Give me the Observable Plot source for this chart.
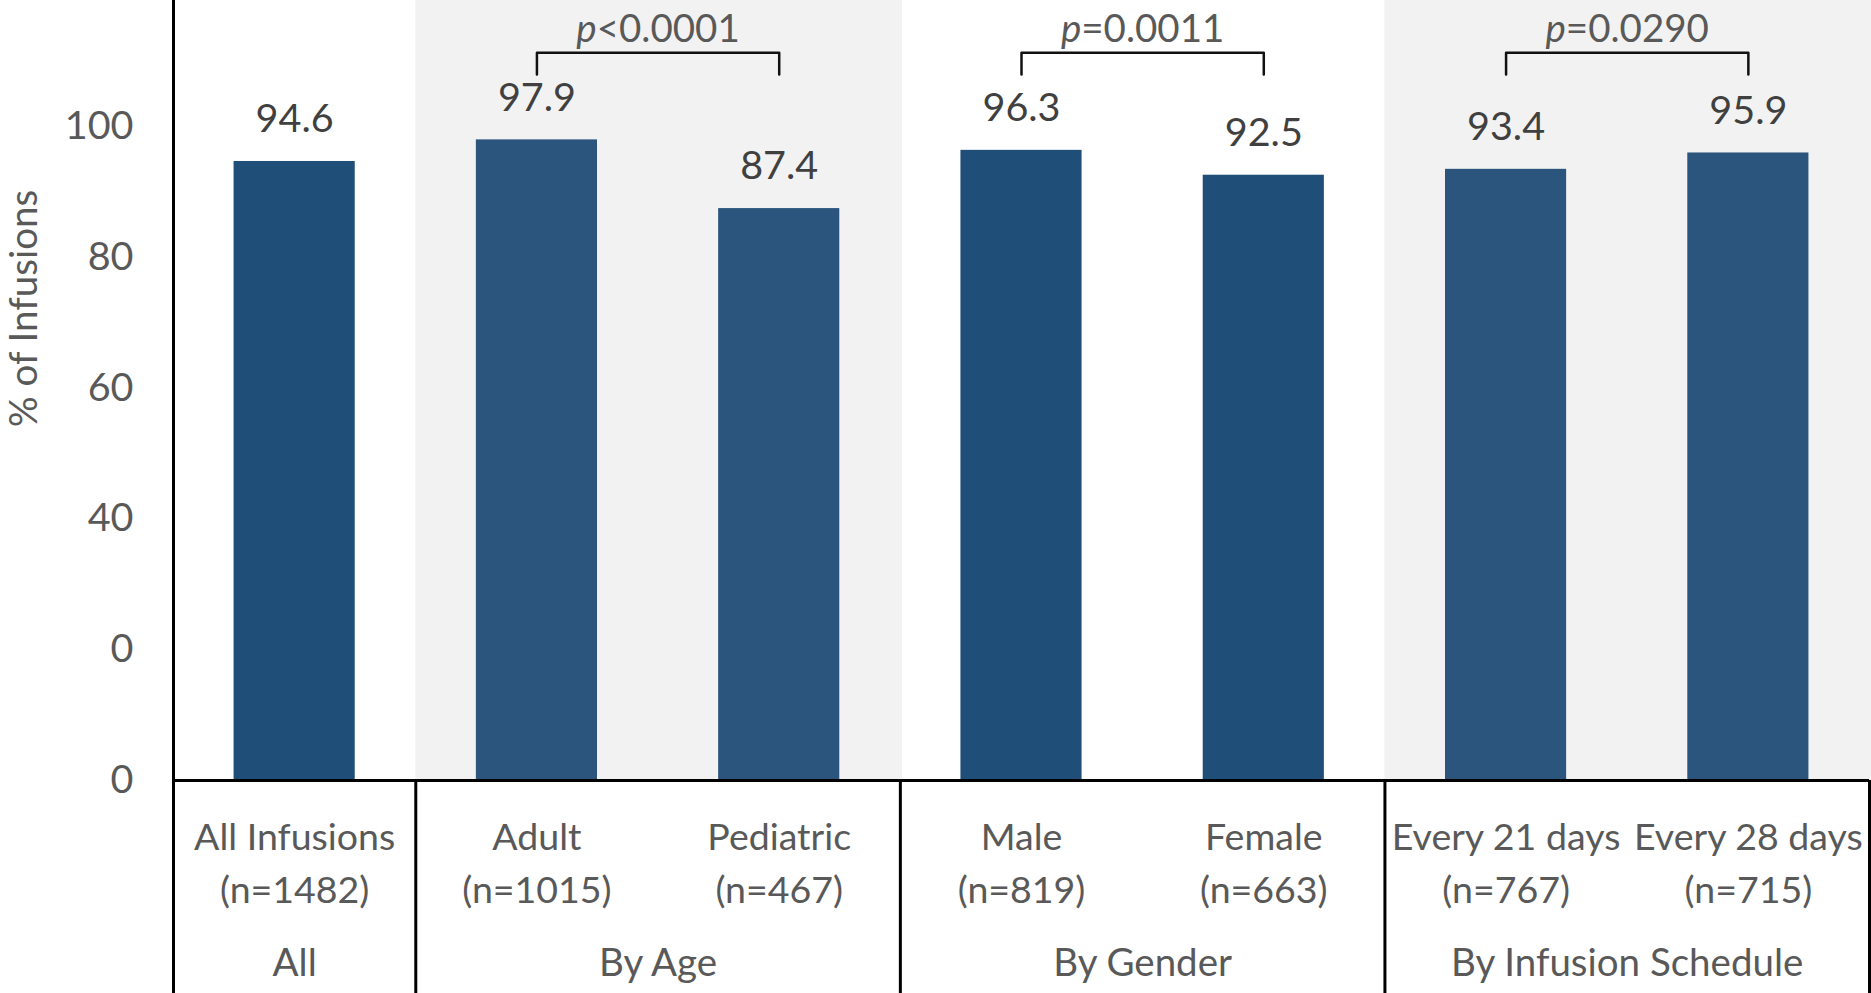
<!DOCTYPE html>
<html>
<head>
<meta charset="utf-8">
<script src="https://cdn.jsdelivr.net/npm/d3@7"></script>
<script src="https://cdn.jsdelivr.net/npm/@observablehq/plot@0.6"></script>
<style>
  html, body { margin: 0; padding: 0; background: #ffffff; }
  #chart svg { display: block; }
</style>
</head>
<body>
<div id="chart"></div>
<script>
// ---- data ----
const categories = ["All Infusions", "Adult", "Pediatric", "Male", "Female", "Every 21 days", "Every 28 days"];
const sampleSizes = ["(n=1482)", "(n=1015)", "(n=467)", "(n=819)", "(n=663)", "(n=767)", "(n=715)"];
const values = [94.6, 97.9, 87.4, 96.3, 92.5, 93.4, 95.9];
const groups = ["All", "By Age", "By Gender", "By Infusion Schedule"];
const groupOfCategory = [0, 1, 1, 2, 2, 3, 3];
const shadedGroups = ["By Age", "By Infusion Schedule"];
const pLabels = ["p<0.0001", "p=0.0011", "p=0.0290"];
const pPairs = [[1, 2], [3, 4], [5, 6]];
const yTicks = [0, 20, 40, 60, 80, 100];
const yTickLabels = ["0", "0", "40", "60", "80", "100"];
const yTitle = "% of Infusions";
const yMax = 119.2;
const bracketTop = 111.2;
const bracketLeg = 107.9;
const pTextLevel = 114.8;

// ---- derived tables ----
const data = categories.map((c, i) => ({
  i, category: c, n: sampleSizes[i], value: values[i], group: groupOfCategory[i],
  shaded: shadedGroups.includes(groups[groupOfCategory[i]])
}));
const groupData = groups.map((g, gi) => {
  const idx = data.filter(d => d.group === gi).map(d => d.i);
  return { label: g, start: d3.min(idx), end: d3.max(idx), mid: d3.mean(idx), shaded: shadedGroups.includes(g) };
});
const bracketData = pPairs.flatMap(([a, b], k) => [
  { k, x: a, y: bracketLeg }, { k, x: a, y: bracketTop },
  { k, x: b, y: bracketTop }, { k, x: b, y: bracketLeg }
]);
const pData = pPairs.map(([a, b], k) => ({ x: (a + b) / 2, label: pLabels[k] }));

const FS_NUM = 39.5;   // numbers
const FS_TXT = 38.5;   // words
const FS_CAT = 37.5;   // category labels
const W = 1871, H = 993;
const MB = 213;

const chart = Plot.plot({
  width: W,
  height: H,
  marginLeft: 173,
  marginRight: 2,
  marginTop: 0,
  marginBottom: MB,
  x: { type: "linear", domain: [-0.5, categories.length - 0.5], axis: null },
  y: { domain: [0, yMax], axis: null },
  color: { type: "identity" },
  style: { fontFamily: "Lato, 'Open Sans', sans-serif", fontSize: FS_TXT + "px", color: "#595959", background: "#ffffff" },
  marks: [
    // shaded group backgrounds
    Plot.rect(groupData.filter(g => g.shaded), {
      x1: g => g.start - 0.5, x2: g => g.end + 0.5, fill: "#F2F2F2", insetRight: -2
    }),
    // bars
    Plot.rectY(data, {
      x1: d => d.i - 0.25, x2: d => d.i + 0.25, y: "value",
      fill: d => d.shaded ? "#2B557C" : "#1F4E79"
    }),
    // y axis ticks
    Plot.axisY(yTicks, {
      tickSize: 0, tickPadding: 40, label: null, fontSize: FS_NUM,
      tickFormat: d => yTickLabels[yTicks.indexOf(d)], fill: "#595959"
    }),
    // value labels
    Plot.text(data, {
      x: "i", y: "value", text: d => d.value.toFixed(1), dy: -42,
      lineAnchor: "middle", fill: "#404040", fontSize: FS_NUM
    }),
    // brackets
    Plot.line(bracketData, {
      x: "x", y: "y", z: "k", stroke: "#111", strokeWidth: 2.5, strokeLinejoin: "round"
    }),
    // p-values
    Plot.text(pData, {
      x: "x", y: () => pTextLevel, text: "label", lineAnchor: "middle", fill: "#595959", fontSize: FS_NUM - 1
    }),
    // axis lines and table separators
    Plot.ruleY([0], { stroke: "#000", strokeWidth: 3 }),
    Plot.ruleX([-0.5], { stroke: "#000", strokeWidth: 3, insetBottom: -MB }),
    Plot.ruleX(groupData, {
      x: g => g.end + 0.5, y1: () => 0, y2: () => 0, insetBottom: -MB, stroke: "#000", strokeWidth: 3
    }),
    // category labels
    Plot.text(data, {
      x: "i", frameAnchor: "bottom", text: d => d.category + "\n" + d.n,
      lineAnchor: "middle", textAnchor: "middle", lineHeight: 53 / FS_CAT, dy: 79, fill: "#595959", fontSize: FS_CAT
    }),
    // group labels
    Plot.text(groupData, {
      x: "mid", frameAnchor: "bottom", text: "label",
      lineAnchor: "middle", textAnchor: "middle", dy: 183, fill: "#595959", fontSize: FS_TXT
    }),
    // y title
    Plot.text([yTitle], {
      frameAnchor: "left", rotate: -90, textAnchor: "middle", lineAnchor: "middle",
      dx: -149, dy: -82, fill: "#595959", fontSize: FS_TXT
    })
  ]
});

// italicise the leading "p" in the p-value labels
d3.select(chart).selectAll("text").each(function () {
  const t = this;
  if (t.childElementCount === 0 && /^p[<=]/.test(t.textContent)) {
    const rest = t.textContent.slice(1);
    t.textContent = "";
    const s1 = document.createElementNS("http://www.w3.org/2000/svg", "tspan");
    s1.setAttribute("font-style", "italic");
    s1.textContent = "p";
    const s2 = document.createElementNS("http://www.w3.org/2000/svg", "tspan");
    s2.textContent = rest;
    t.appendChild(s1);
    t.appendChild(s2);
  }
});

document.getElementById("chart").appendChild(chart);
</script>
</body>
</html>
